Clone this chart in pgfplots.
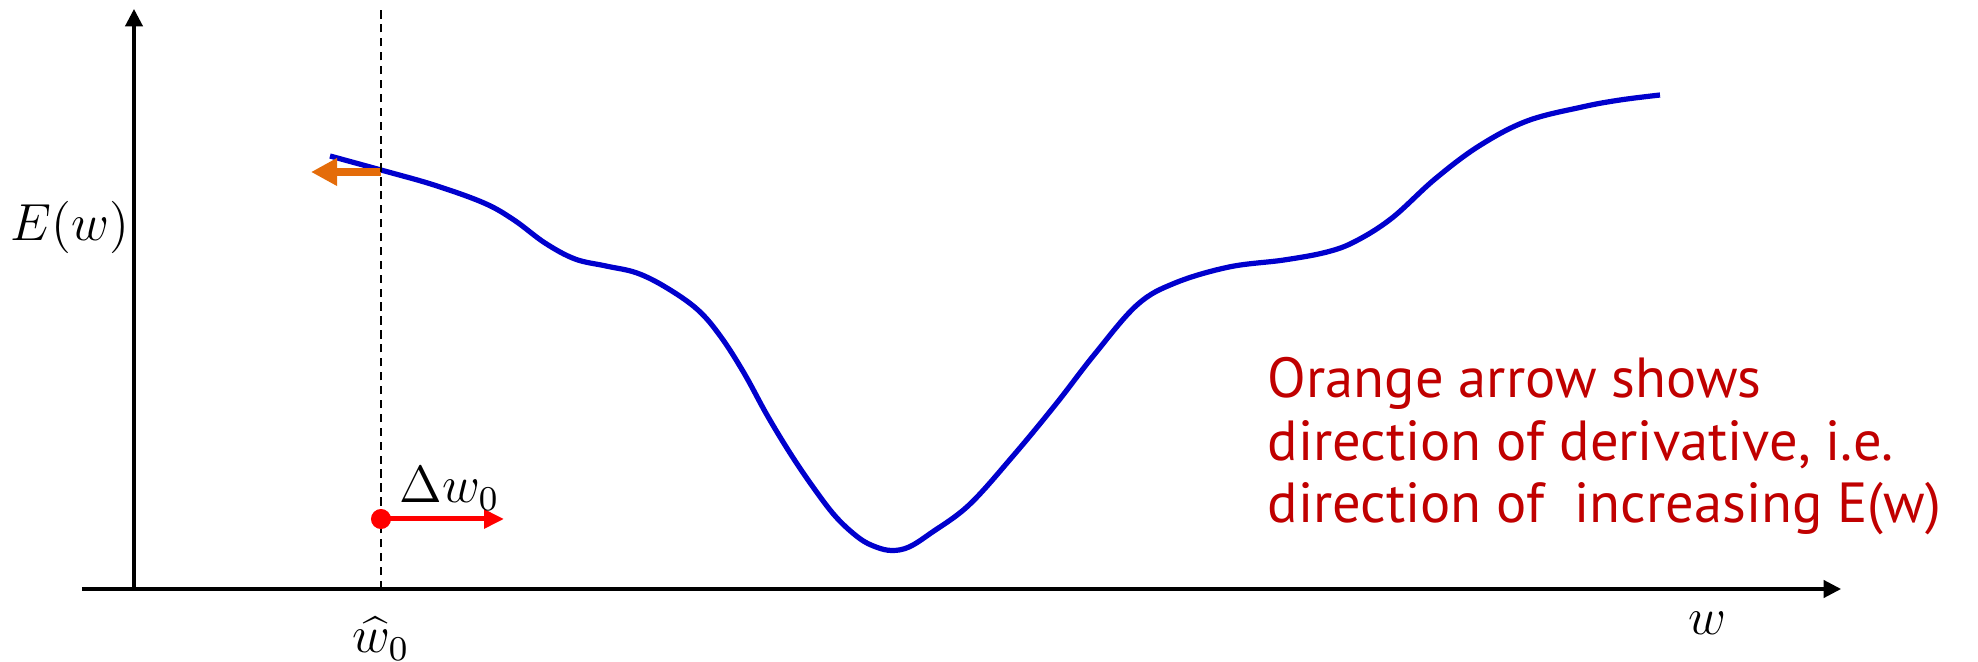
\documentclass[border=0pt]{standalone}
\usepackage{pgfplots}
\pgfplotsset{compat=1.18}
\usepackage{fontspec}
\newfontfamily\notefont{PT Sans}
\usetikzlibrary{arrows.meta}
\definecolor{curveblue}{RGB}{0,0,205}
\definecolor{arroworange}{RGB}{228,108,10}
\definecolor{notered}{RGB}{192,0,0}
\begin{document}
\begin{tikzpicture}
\begin{axis}[
  x=0.23pt, y=0.23pt,
  xmin=-52, xmax=1707, ymin=0, ymax=580,
  axis lines=middle,
  axis line style={line width=0.7pt, -{Triangle[length=4pt,width=4pt]}},
  xtick=\empty, ytick=\empty,
  clip=false,
]
\path (axis cs:-134,-73) rectangle (axis cs:1844,589);
% error curve
\addplot[curveblue, line width=1.2pt, smooth, tension=0.6] coordinates {
(196,433) (247,419) (300,404) (350,386) (380,369) (411,346) (441,330)
(472,323) (503,316) (533,301) (564,279) (587,252) (610,216) (633,174)
(656,136) (679,102) (702,72) (725,51) (742,42) (758,38.5) (775,42) (797,56)
(835,84) (879,133) (922,185) (960,234) (1003,284) (1041,306) (1095,322)
(1150,329) (1193,337) (1222,348) (1258,371) (1301,410) (1345,443)
(1393,468) (1448,482) (1486,489) (1526,494)
};
% orange arrow (derivative direction)
\addplot[arroworange, line width=2pt, -{Triangle[length=6pt,width=6pt]}] coordinates {(247,417) (177,417)};
% red step arrow
\addplot[red, line width=1.15pt, -{Triangle[length=4.6pt,width=4.2pt]}] coordinates {(247,70) (370,70)};
\addplot[red, only marks, mark=*, mark size=2.1pt] coordinates {(247,70)};
% dashed vertical line at w0
\addplot[black, line width=0.45pt, dash pattern=on 1.9pt off 1.3pt] coordinates {(247,0) (247,579)};
% labels
\node[inner sep=0pt] at (axis cs:-64,362) {\fontsize{11.5}{14}\selectfont $E(w)$};
\node[inner sep=0pt] at (axis cs:1573,-34) {\fontsize{12.5}{14}\selectfont $w$};
\node[inner sep=0pt] at (axis cs:247,-50) {\fontsize{11.5}{14}\selectfont $\widehat{w}_0$};
\node[anchor=base west, inner sep=0pt] at (axis cs:265,86) {\fontsize{11.5}{14}\selectfont $\Delta w_0$};
\node[anchor=base west, inner sep=0pt, text=notered, align=left,
  font={\fontsize{13}{14.4}\selectfont\notefont}] at (axis cs:1133,66)
  {Orange arrow shows\\direction of derivative, i.e.\\direction of \ increasing E(w)};
\end{axis}
\end{tikzpicture}
\end{document}
